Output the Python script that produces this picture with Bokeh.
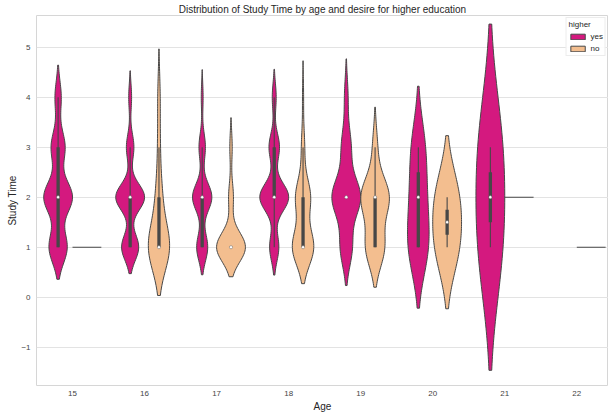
import numpy as np
from bokeh.plotting import figure
from bokeh.models import ColumnDataSource, Range1d, FixedTicker, Legend, LegendItem
from bokeh.embed import file_html
from bokeh.resources import INLINE

# ---------------- data ----------------
ages = ["15", "16", "17", "18", "19", "20", "21", "22"]
study_levels = [1, 2, 3, 4]
hue_levels = ["yes", "no"]
# number of students at study time 1..4, per age, higher == "yes"
yes_counts = [
    [52, 82, 40, 18],
    [77, 130, 34, 13],
    [60, 105, 35, 10],
    [35, 110, 40, 15],
    [10, 24, 8, 3],
    [3, 2, 2, 0],
    [1, 0, 1, 0],
    [0, 0, 0, 0],
]
# number of students at study time 1..4, per age, higher == "no"
no_counts = [
    [2, 0, 0, 0],
    [18, 5, 2, 2],
    [24, 4, 2, 0],
    [20, 14, 3, 1],
    [4, 6, 1, 0],
    [1, 1, 0, 0],
    [0, 1, 0, 0],
    [2, 0, 0, 0],
]

# ---------------- styles ----------------
YES_COLOR = "#d4197f"
NO_COLOR = "#f3be8f"
LINE_GRAY = "#474747"
FONT = "Liberation Sans"
HALF_WIDTH = 0.2
DODGE = {"yes": -0.2, "no": 0.2}
CUT = 2
GRIDSIZE = 100


def kde(vals, grid):
    n = len(vals)
    bw = vals.std(ddof=1) * n ** (-1 / 5)
    z = (grid[:, None] - vals[None, :]) / bw
    return np.exp(-0.5 * z * z).sum(1) / (n * bw * np.sqrt(2 * np.pi)), bw


# compute violins (seaborn-like: scott bandwidth, cut=2, area scaling within each age)
violins = {h: dict(xs=[], ys=[]) for h in hue_levels}
singles = dict(x0=[], x1=[], y=[])
whisk = dict(x=[], y0=[], y1=[])
boxes = dict(x=[], y0=[], y1=[])
meds = dict(x=[], y=[])

for i, age in enumerate(ages):
    dens_by_hue = {}
    for h, counts in (("yes", yes_counts[i]), ("no", no_counts[i])):
        vals = np.repeat(np.array(study_levels, dtype=float), counts)
        if vals.size == 0:
            continue
        center = i + DODGE[h]
        if np.unique(vals).size == 1:
            singles["x0"].append(center - HALF_WIDTH)
            singles["x1"].append(center + HALF_WIDTH)
            singles["y"].append(float(vals[0]))
            continue
        _, bw = kde(vals, np.array([0.0]))
        support = np.linspace(vals.min() - CUT * bw, vals.max() + CUT * bw, GRIDSIZE)
        dens, _ = kde(vals, support)
        dens_by_hue[h] = (center, support, dens, vals)
    if not dens_by_hue:
        continue
    mx = max(d[2].max() for d in dens_by_hue.values())
    for h, (center, support, dens, vals) in dens_by_hue.items():
        half = dens / mx * HALF_WIDTH
        violins[h]["xs"].append(list(np.concatenate([center - half, (center + half)[::-1]])))
        violins[h]["ys"].append(list(np.concatenate([support, support[::-1]])))
        q25, q50, q75 = np.percentile(vals, [25, 50, 75])
        lim = 1.5 * (q75 - q25)
        h1 = vals[vals >= q25 - lim].min()
        h2 = vals[vals <= q75 + lim].max()
        whisk["x"].append(center); whisk["y0"].append(h1); whisk["y1"].append(h2)
        boxes["x"].append(center); boxes["y0"].append(q25); boxes["y1"].append(q75)
        meds["x"].append(center); meds["y"].append(q50)

# ---------------- figure ----------------
p = figure(
    width=608, height=414,
    x_range=Range1d(-0.5, 7.44), y_range=Range1d(-1.766, 5.634),
    output_backend="svg", toolbar_location=None,
    min_border_left=36, min_border_right=0, min_border_top=0, min_border_bottom=0,
    title="Distribution of Study Time by age and desire for higher education",
)
p.background_fill_color = "white"
p.border_fill_color = "white"
p.outline_line_color = "#d6d6d6"
p.outline_line_width = 1

p.title.align = "center"
p.title.text_font = FONT
p.title.text_font_size = "10px"
p.title.text_font_style = "normal"
p.title.text_color = "#262626"
p.title.standoff = 2

p.xgrid.visible = False
p.ygrid.ticker = FixedTicker(ticks=[-1, 0, 1, 2, 3, 4, 5])
p.ygrid.grid_line_color = "#e3e3e3"
p.ygrid.grid_line_width = 1

for ax in (p.xaxis[0], p.yaxis[0]):
    ax.axis_line_color = None
    ax.major_tick_line_color = None
    ax.minor_tick_line_color = None
    ax.major_tick_out = 0
    ax.major_tick_in = 0
    ax.minor_tick_out = 0
    ax.minor_tick_in = 0
    ax.major_label_text_font = FONT
    ax.major_label_text_font_size = "8px"
    ax.major_label_text_color = "#444444"
    ax.axis_label_text_font = FONT
    ax.axis_label_text_font_size = "10px"
    ax.axis_label_text_font_style = "normal"
    ax.axis_label_text_color = "#262626"

p.xaxis.ticker = FixedTicker(ticks=list(range(len(ages))))
p.xaxis.major_label_overrides = {i: a for i, a in enumerate(ages)}
p.xaxis.axis_label = "Age"
p.xaxis.major_label_standoff = 5
p.xaxis.axis_label_standoff = 2

yticks = [-1, 0, 1, 2, 3, 4, 5]
p.yaxis.ticker = FixedTicker(ticks=yticks)
p.yaxis.major_label_overrides = {t: str(t).replace("-", "\u2212") for t in yticks}
p.yaxis.axis_label = "Study Time"
p.yaxis.major_label_standoff = 6
p.yaxis.axis_label_standoff = 0

colors = {"yes": YES_COLOR, "no": NO_COLOR}
renderers = {}
for h in hue_levels:
    src = ColumnDataSource(violins[h])
    renderers[h] = p.patches("xs", "ys", source=src, fill_color=colors[h],
                             line_color=LINE_GRAY, line_width=1)

p.segment(x0="x", y0="y0", x1="x", y1="y1", source=ColumnDataSource(whisk),
          line_color=LINE_GRAY, line_width=1.1)
p.segment(x0="x", y0="y0", x1="x", y1="y1", source=ColumnDataSource(boxes),
          line_color=LINE_GRAY, line_width=3.3, line_cap="butt")
p.scatter(x="x", y="y", source=ColumnDataSource(meds), size=3.2,
          fill_color="white", line_color=LINE_GRAY, line_width=0.4)
p.segment(x0="x0", y0="y", x1="x1", y1="y", source=ColumnDataSource(singles),
          line_color=LINE_GRAY, line_width=1.1)

legend = Legend(
    items=[LegendItem(label=h, renderers=[renderers[h]]) for h in hue_levels],
    title="higher", location="top_right",
)
legend.margin = 2
legend.padding = 2
legend.spacing = 3
legend.glyph_width = 18
legend.glyph_height = 7
legend.label_height = 8
legend.label_width = 1
legend.label_standoff = 4
legend.label_text_font = FONT
legend.label_text_font_size = "8px"
legend.label_text_color = "#262626"
legend.title_text_font = FONT
legend.title_text_font_size = "8px"
legend.title_text_font_style = "normal"
legend.title_text_color = "#262626"
legend.title_standoff = 3
legend.border_line_color = "#d9d9d9"
legend.border_line_width = 1
legend.background_fill_alpha = 0.9
p.add_layout(legend)

open("out.html", "w").write(file_html(p, INLINE))
